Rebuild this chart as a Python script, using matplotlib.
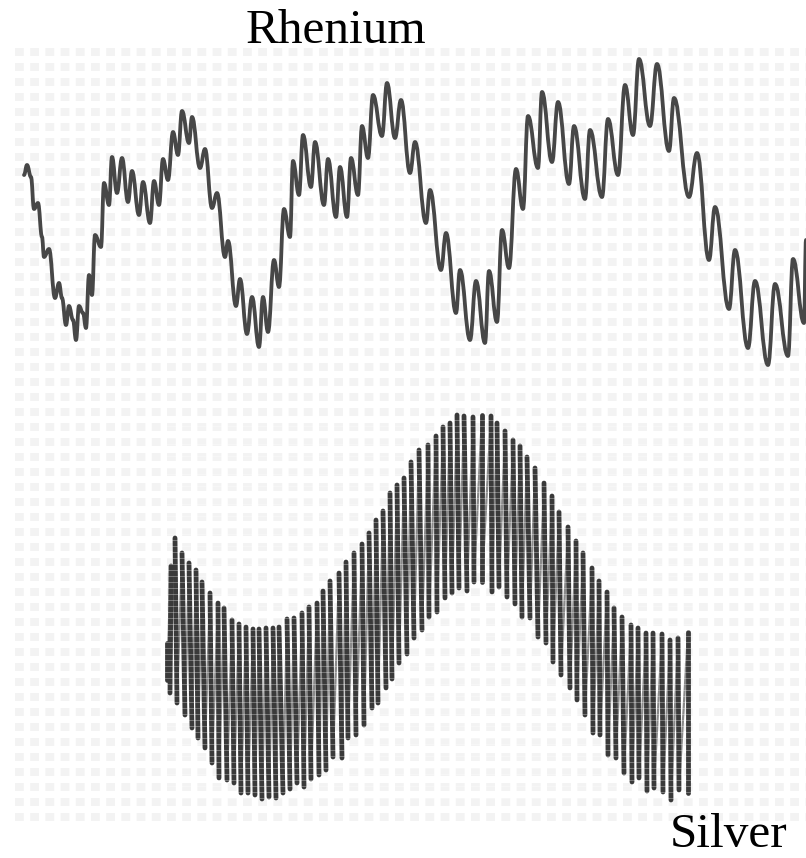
import numpy as np
import matplotlib
matplotlib.use('Agg')
import matplotlib.pyplot as plt
from matplotlib.path import Path
from matplotlib.patches import PathPatch

# values, in picture pixels
rhenium_x = [24, 27, 31, 34, 38, 42, 44, 49, 55, 59, 62, 66, 69, 73, 76, 79, 83, 86, 89, 92, 95, 101, 104, 109, 112, 117,
             122, 128, 132, 139, 143, 150, 154, 159, 163, 168, 173, 178, 182, 189, 192, 200, 205, 212, 217, 225, 228,
             236, 240, 247, 252, 259, 263, 268, 274, 279, 284, 290, 293, 299, 303, 311, 315, 324, 328, 336, 340, 347,
             351, 358, 362, 368, 373, 382, 387, 395, 401, 410, 415, 426, 430, 441, 446, 456, 460, 470, 476, 485, 489,
             497, 502, 509, 516, 523, 528, 538, 542, 552, 558, 569, 574, 585, 590, 602, 608, 618, 625, 633, 639, 650,
             657, 669, 674, 689, 697, 709, 715, 729, 735, 748, 755, 768, 775, 788, 793, 804, 806]
rhenium_y = [175, 165, 177, 209, 203, 237, 257, 249, 298, 283, 298, 325, 306, 320, 340, 306, 313, 328, 275, 295, 235, 247,
             183, 205, 157, 193, 158, 202, 171, 215, 182, 223, 181, 205, 159, 180, 132, 155, 111, 143, 117, 168, 149,
             208, 193, 257, 241, 306, 279, 334, 297, 347, 297, 332, 260, 287, 209, 237, 161, 195, 135, 187, 142, 205,
             159, 217, 167, 217, 158, 195, 126, 158, 95, 136, 83, 138, 100, 173, 142, 223, 190, 270, 233, 313, 270, 340,
             281, 343, 271, 322, 230, 268, 169, 209, 116, 168, 92, 162, 102, 184, 126, 199, 130, 197, 119, 175, 85, 135,
             59, 126, 64, 151, 98, 197, 153, 260, 207, 309, 250, 348, 281, 365, 284, 356, 259, 323, 240]

silver_top_x = [167, 171, 175, 182, 189, 196, 202, 210, 218, 224, 232, 239, 246, 253, 259, 266, 273, 279, 287, 294, 302,
                309, 317, 323, 330, 339, 346, 354, 362, 369, 376, 383, 390, 397, 404, 411, 419, 428, 436, 443, 450, 457,
                464, 473, 482, 491, 497, 505, 513, 520, 527, 535, 544, 552, 559, 568, 576, 583, 592, 599, 607, 614, 622,
                631, 638, 646, 653, 662, 670, 678, 688]
silver_top_y = [643, 566, 538, 553, 563, 570, 582, 593, 603, 608, 620, 624, 627, 629, 629, 628, 628, 627, 619, 618, 613,
                607, 603, 591, 581, 573, 562, 553, 544, 533, 520, 511, 493, 485, 478, 462, 450, 445, 436, 427, 423, 415,
                416, 417, 415, 416, 423, 431, 440, 446, 457, 468, 483, 496, 512, 527, 541, 553, 568, 581, 592, 608, 617,
                625, 628, 633, 633, 634, 640, 638, 632]
silver_bottom_x = [167, 170, 177, 185, 192, 198, 205, 212, 219, 227, 234, 241, 248, 255, 262, 269, 276, 283, 290, 297, 304,
                   311, 319, 326, 333, 342, 348, 356, 364, 372, 378, 386, 392, 399, 407, 414, 422, 429, 437, 445, 452, 459,
                   467, 474, 482, 492, 499, 507, 515, 522, 530, 538, 546, 553, 561, 570, 577, 585, 593, 600, 608, 616, 624,
                   632, 639, 647, 654, 663, 671, 679, 688]
silver_bottom_y = [680, 693, 703, 715, 728, 738, 748, 763, 778, 780, 783, 793, 793, 795, 799, 797, 798, 793, 789, 783, 787,
                   779, 775, 770, 757, 758, 738, 735, 725, 708, 703, 688, 679, 663, 654, 638, 630, 617, 612, 598, 593, 588,
                   591, 582, 582, 592, 587, 597, 604, 617, 618, 637, 643, 662, 675, 688, 700, 715, 733, 735, 755, 758, 773,
                   782, 778, 791, 788, 792, 800, 790, 793]

W, H = 806, 858
dpi = 100
px = 72 / dpi

fig = plt.figure(figsize=(W / dpi, H / dpi), dpi=dpi, facecolor='white')
ax = fig.add_axes([15 / W, 1 - 832 / H, 1 - 15 / W, (832 - 45) / H])
ax.set_xlim(15, W)
ax.set_ylim(832, 45)
for s in ax.spines.values():
    s.set_visible(False)
ax.tick_params(length=0, labelbottom=False, labelleft=False)

# faint show-through of the printed page behind the traces
ax.set_yticks(np.arange(52, 832, 15))
ax.set_xticks([])
ax.grid(axis='y', color='#f3f3f3', linewidth=8 * px, linestyle=(0, (1.1, 0.8)))
ax.set_axisbelow(True)


def smooth_path(xs, ys):
    # pass through every extremum with a flat tangent
    verts = [(xs[0], ys[0])]
    codes = [Path.MOVETO]
    for i in range(len(xs) - 1):
        dx = (xs[i + 1] - xs[i]) * 0.42
        verts += [(xs[i] + dx, ys[i]), (xs[i + 1] - dx, ys[i + 1]), (xs[i + 1], ys[i + 1])]
        codes += [Path.CURVE4] * 3
    return Path(verts, codes)


ax.add_patch(PathPatch(smooth_path(rhenium_x, rhenium_y), fill=False, edgecolor='#474747',
                       linewidth=3.8 * px, capstyle='round', joinstyle='round', zorder=3, clip_on=False))

# thin return sweep between strokes, then the heavy down strokes
zig_x, zig_y = [], []
for i in range(len(silver_top_x)):
    zig_x += [silver_top_x[i], silver_bottom_x[i]]
    zig_y += [silver_top_y[i], silver_bottom_y[i]]
ax.plot(zig_x, zig_y, color='#8a8a8a', linewidth=2.2 * px, zorder=2)
for i in range(len(silver_top_x)):
    ax.plot([silver_top_x[i], silver_bottom_x[i]], [silver_top_y[i], silver_bottom_y[i]],
            color='#3a3a3a', linewidth=4.8 * px, solid_capstyle='round', zorder=3)

# white scratches across the silver band
for yy in np.arange(420, 800, 6):
    ax.axhline(yy, color='white', linewidth=1 * px, alpha=0.3, zorder=4,
               xmin=(165 - 15) / (W - 15), xmax=(692 - 15) / (W - 15))

fig.text(336 / W, 1 - 42.7 / H, 'Rhenium', family='Liberation Serif', fontsize=35.5, color='black',
         ha='center', va='baseline')
fig.text(728.5 / W, 1 - 847 / H, 'Silver', family='Liberation Serif', fontsize=35.5, color='black',
         ha='center', va='baseline')

fig.savefig('out.png', dpi=dpi)
